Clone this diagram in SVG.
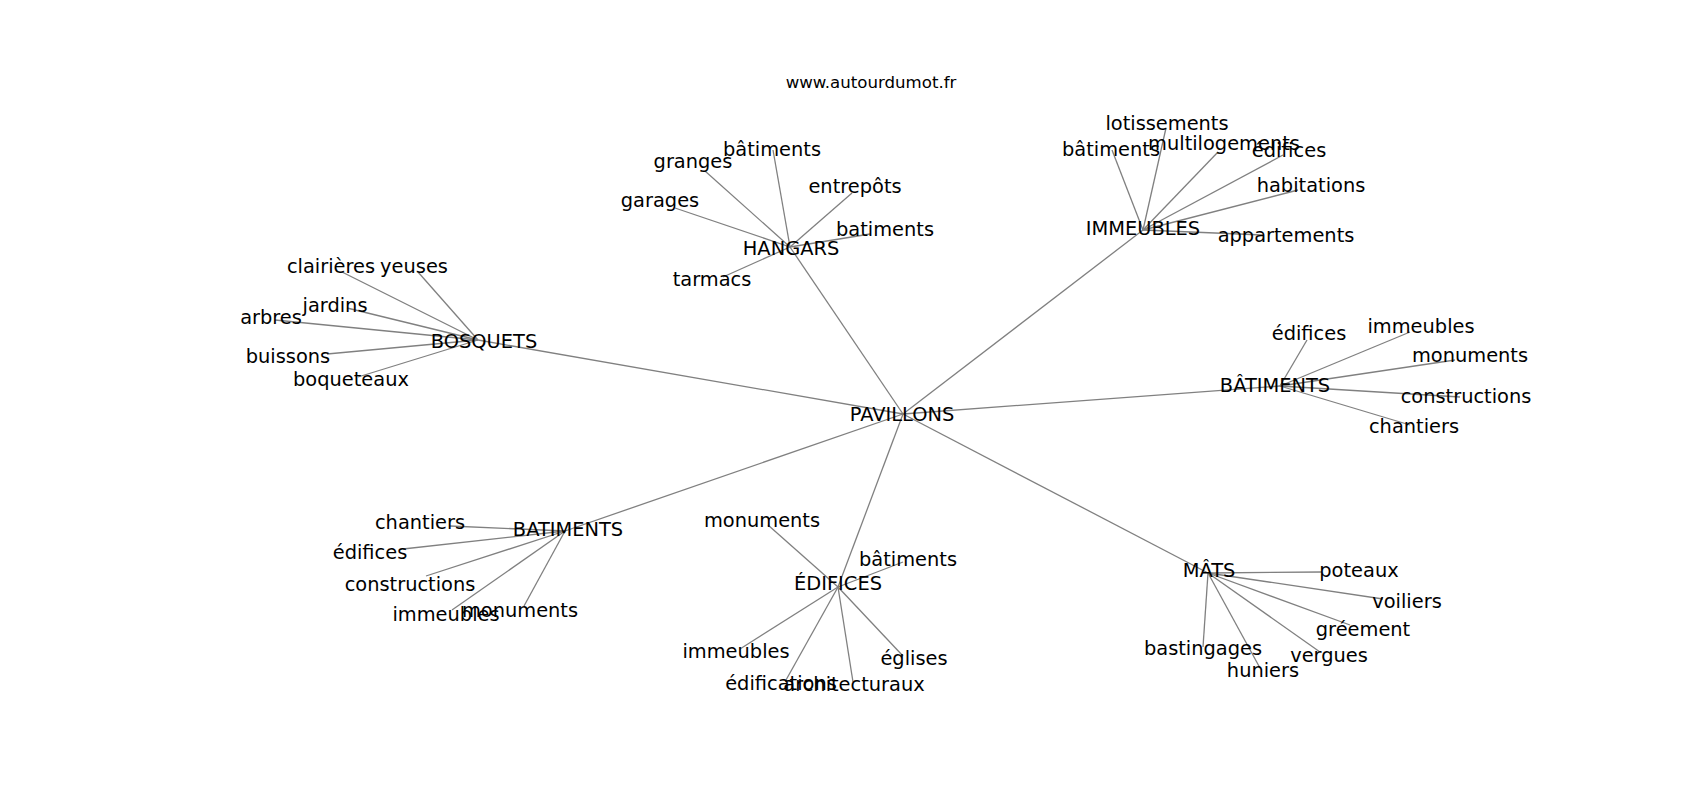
<svg xmlns="http://www.w3.org/2000/svg" width="1700" height="800" viewBox="0 0 1700 800">
<style>
text{font-family:"DejaVu Sans","Liberation Sans",sans-serif;font-size:19.4px;fill:#000;text-anchor:middle}
.t{font-size:16.6px}
.e line{stroke:#808080;stroke-width:1.3}
</style>
<rect width="1700" height="800" fill="#fff"/>
<text class="t" x="871" y="88">www.autourdumot.fr</text>
<g class="e" id="edges">
<line x1="903" y1="414" x2="478" y2="340"/>
<line x1="903" y1="414" x2="790" y2="247"/>
<line x1="903" y1="414" x2="1143" y2="230"/>
<line x1="903" y1="414" x2="1280" y2="386"/>
<line x1="903" y1="414" x2="565" y2="531"/>
<line x1="903" y1="414" x2="838" y2="587"/>
<line x1="903" y1="414" x2="1208" y2="573"/>
<line x1="790" y1="247" x2="705" y2="171"/>
<line x1="790" y1="247" x2="773" y2="150"/>
<line x1="790" y1="247" x2="852" y2="193"/>
<line x1="790" y1="247" x2="675" y2="208"/>
<line x1="790" y1="247" x2="870" y2="234"/>
<line x1="790" y1="247" x2="723" y2="277"/>
<line x1="1143" y1="230" x2="1112" y2="150"/>
<line x1="1143" y1="230" x2="1166" y2="128"/>
<line x1="1143" y1="230" x2="1218" y2="152"/>
<line x1="1143" y1="230" x2="1283" y2="155"/>
<line x1="1143" y1="230" x2="1298" y2="190"/>
<line x1="1143" y1="230" x2="1263" y2="235"/>
<line x1="478" y1="340" x2="342" y2="272"/>
<line x1="478" y1="340" x2="418" y2="272"/>
<line x1="478" y1="340" x2="347" y2="308"/>
<line x1="478" y1="340" x2="275" y2="320"/>
<line x1="478" y1="340" x2="327" y2="354"/>
<line x1="478" y1="340" x2="358" y2="377"/>
<line x1="1280" y1="386" x2="1307" y2="340"/>
<line x1="1280" y1="386" x2="1410" y2="332"/>
<line x1="1280" y1="386" x2="1455" y2="360"/>
<line x1="1280" y1="386" x2="1460" y2="397"/>
<line x1="1280" y1="386" x2="1410" y2="425"/>
<line x1="565" y1="531" x2="450" y2="526"/>
<line x1="565" y1="531" x2="403" y2="549"/>
<line x1="565" y1="531" x2="426" y2="576"/>
<line x1="565" y1="531" x2="452" y2="610"/>
<line x1="565" y1="531" x2="524" y2="606"/>
<line x1="838" y1="587" x2="768" y2="525"/>
<line x1="838" y1="587" x2="903" y2="562"/>
<line x1="838" y1="587" x2="740" y2="649"/>
<line x1="838" y1="587" x2="786" y2="680"/>
<line x1="838" y1="587" x2="853" y2="682"/>
<line x1="838" y1="587" x2="903" y2="656"/>
<line x1="1208" y1="573" x2="1322" y2="572"/>
<line x1="1208" y1="573" x2="1383" y2="599"/>
<line x1="1208" y1="573" x2="1350" y2="625"/>
<line x1="1208" y1="573" x2="1320" y2="652"/>
<line x1="1208" y1="573" x2="1260" y2="668"/>
<line x1="1208" y1="573" x2="1203" y2="647"/>
</g>
<g id="n-pavillons"><text x="902" y="421">PAVILLONS</text></g>
<g id="n-hangars"><text x="791" y="255">HANGARS</text></g>
<g id="n-hangars-leaves">
<text x="693" y="168">granges</text>
<text x="772" y="156">bâtiments</text>
<text x="855" y="193">entrepôts</text>
<text x="660" y="207">garages</text>
<text x="885" y="236">batiments</text>
<text x="712" y="286">tarmacs</text>
</g>
<g id="n-immeubles"><text x="1143" y="235">IMMEUBLES</text></g>
<g id="n-immeubles-leaves">
<text x="1167" y="130">lotissements</text>
<text x="1111" y="156">bâtiments</text>
<text x="1224" y="150">multilogements</text>
<text x="1289" y="157">édifices</text>
<text x="1311" y="192">habitations</text>
<text x="1286" y="242">appartements</text>
</g>
<g id="n-bosquets"><text x="484" y="348">BOSQUETS</text></g>
<g id="n-bosquets-leaves">
<text x="331" y="273">clairières</text>
<text x="414" y="273">yeuses</text>
<text x="335" y="312">jardins</text>
<text x="271" y="324">arbres</text>
<text x="288" y="363">buissons</text>
<text x="351" y="386">boqueteaux</text>
</g>
<g id="n-batiments-accent"><text x="1275" y="392">BÂTIMENTS</text></g>
<g id="n-batiments-accent-leaves">
<text x="1309" y="340">édifices</text>
<text x="1421" y="333">immeubles</text>
<text x="1470" y="362">monuments</text>
<text x="1466" y="403">constructions</text>
<text x="1414" y="433">chantiers</text>
</g>
<g id="n-batiments"><text x="568" y="536">BATIMENTS</text></g>
<g id="n-batiments-leaves">
<text x="420" y="529">chantiers</text>
<text x="370" y="559">édifices</text>
<text x="410" y="591">constructions</text>
<text x="446" y="621">immeubles</text>
<text x="520" y="617">monuments</text>
</g>
<g id="n-edifices"><text x="838" y="590">ÉDIFICES</text></g>
<g id="n-edifices-leaves">
<text x="762" y="527">monuments</text>
<text x="908" y="566">bâtiments</text>
<text x="736" y="658">immeubles</text>
<text x="781" y="690">édifications</text>
<text x="854" y="691">architecturaux</text>
<text x="914" y="665">églises</text>
</g>
<g id="n-mats"><text x="1209" y="577">MÂTS</text></g>
<g id="n-mats-leaves">
<text x="1359" y="577">poteaux</text>
<text x="1407" y="608">voiliers</text>
<text x="1363" y="636">gréement</text>
<text x="1329" y="662">vergues</text>
<text x="1263" y="677">huniers</text>
<text x="1203" y="655">bastingages</text>
</g>
</svg>
